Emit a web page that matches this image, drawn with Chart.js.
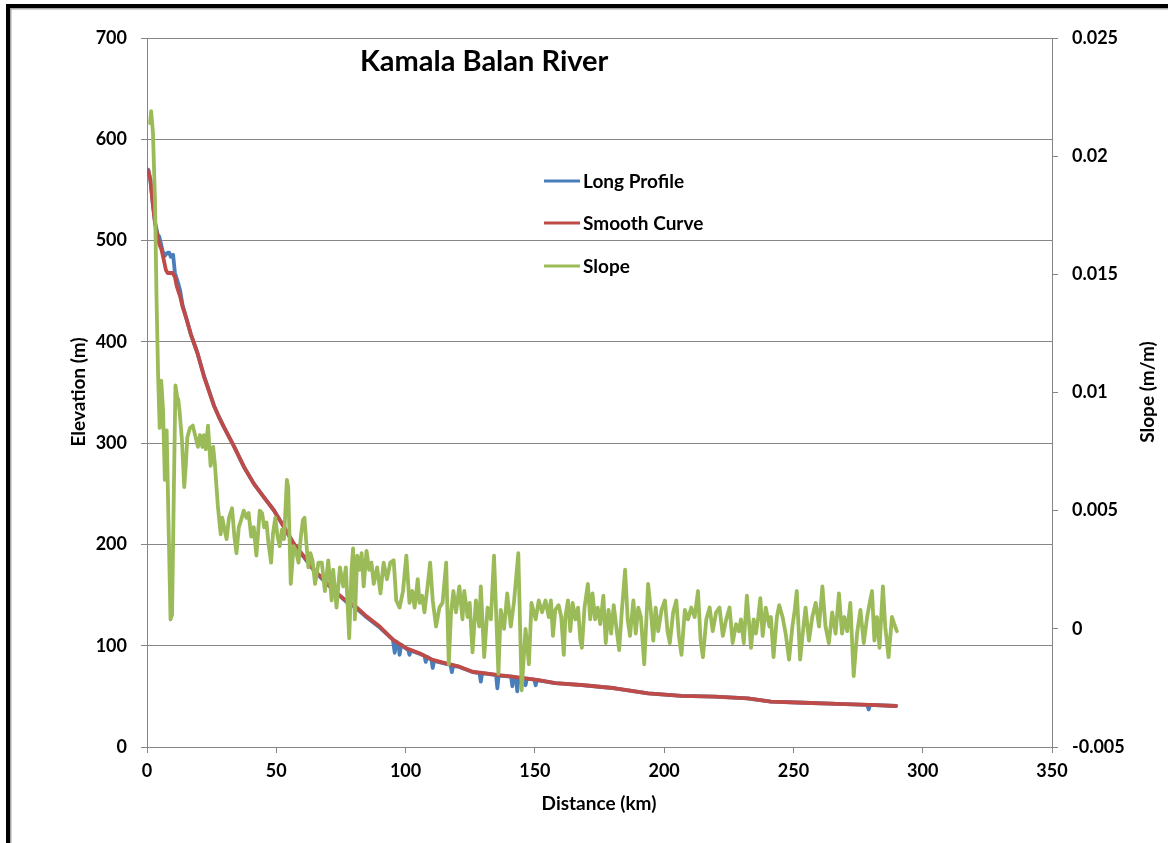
<!DOCTYPE html>
<html>
<head>
<meta charset="utf-8">
<title>Kamala Balan River</title>
<script src="https://cdn.jsdelivr.net/npm/chart.js@4.4.0/dist/chart.umd.min.js"></script>
<style>
  html, body { margin: 0; padding: 0; background: #ffffff; }
  #wrap { position: absolute; left: 0; top: 0; width: 1168px; height: 843px; }
</style>
</head>
<body>
<div id="wrap"><canvas id="chart" width="1168" height="843"></canvas></div>
<script>
// Long profile of the channel bed (distance in km, elevation in m)
const profileKm = [0.5, 1.3, 2.2, 3.1, 4.1, 4.7, 5.4, 6.0, 6.9, 7.5, 8.0, 8.6, 9.2, 10.1, 10.8, 11.8, 12.8, 13.7,
  15.0, 16.9, 19.5, 22.0, 25.9, 27.8, 29.7, 33.6, 37.4, 41.3, 45.1, 49.0, 52.8, 56.7, 60.5, 64.4, 66.9, 72.0,
  77.2, 81.0, 84.9, 90.0, 95.1, 95.8, 96.4, 97.2, 97.7, 98.3, 100.3, 101.0, 101.5, 102.0, 105.4, 107.3, 107.8,
  108.3, 110.0, 110.5, 111.0, 115.7, 117.4, 117.9, 118.4, 120.8, 125.9, 128.6, 129.1, 129.6, 131.0, 135.0,
  135.5, 136.0, 140.8, 141.3, 141.8, 142.7, 143.2, 143.7, 145.9, 146.4, 146.9, 149.8, 150.3, 150.8, 157.9,
  168.2, 181.0, 193.8, 206.7, 219.5, 232.3, 241.3, 254.1, 266.9, 278.6, 279.1, 279.6, 289.7];
const profileElev = [570, 560, 538, 518, 506, 504, 497, 490, 485, 487, 488, 488, 484, 486, 468, 460, 451, 437,
  425, 408, 389, 367, 337, 326, 316, 297, 277, 260, 247, 234, 218, 201, 188, 175, 168, 155,
  143, 137, 128, 118, 106, 93, 104, 102, 91, 101, 97, 96, 91, 95, 92, 90, 84,
  89, 86, 78, 85, 82, 81, 74, 80, 79, 74, 73, 64.5, 72.5, 72.5, 71,
  58, 70.5, 69.5, 60, 69, 68.8, 55, 68.5, 68, 61, 67.5, 66.5, 61, 66, 63,
  61, 58, 53, 50.4, 49.7, 48, 44.7, 43.7, 42.5, 41.5, 37, 41.5, 40.5];

// Smoothed profile (distance in km, elevation in m)
const smoothKm = [0.5, 1.3, 2.2, 3.1, 4.1, 4.7, 5.6, 6.4, 7.3, 8.0, 9.9, 10.8, 11.5, 12.8, 13.7, 15.0, 16.9,
  19.5, 22.0, 25.9, 27.8, 29.7, 33.6, 37.4, 41.3, 45.1, 49.0, 52.8, 56.7, 60.5, 64.4, 66.9, 72.0, 77.2,
  81.0, 84.9, 90.0, 95.1, 100.3, 105.4, 110.5, 115.7, 120.8, 125.9, 131.0, 136.2, 141.3, 146.4, 151.5,
  157.9, 168.2, 181.0, 193.8, 206.7, 219.5, 232.3, 241.3, 254.1, 266.9, 279.7, 289.7];
const smoothElev = [569, 560, 537, 517, 504, 497, 491, 482, 471, 468, 468, 464, 455, 445, 435, 425, 408,
  389, 366, 337, 326, 316, 297, 277, 260, 247, 234, 218, 201, 189, 175, 169, 155, 144,
  138, 129, 119, 106, 97.5, 92.5, 86, 82.6, 79.3, 74.3, 72.7, 71, 69.4, 67.7, 66,
  63, 61.2, 58, 53, 50.4, 49.7, 48, 44.7, 43.7, 42.5, 41.5, 40.5];

// Channel slope (distance in km, slope in m/m)
const slopeKm = [1.2, 1.6, 2.3, 3.1, 3.7, 4.3, 4.9, 5.5, 6.2, 6.9, 7.6, 8.3, 9.1, 9.7, 10.4, 11.0, 11.7, 12.1,
  12.6, 13.5, 14.4, 15.0, 15.6, 16.6, 17.7, 18.8, 19.7, 20.5, 21.4, 22.0, 22.7, 23.6, 24.6, 25.6, 26.3, 27.4,
  28.5, 29.1, 30.0, 30.8, 31.7, 32.9, 33.8, 34.6, 35.5, 36.4, 37.4, 38.5, 39.3, 40.3, 41.3, 42.3, 43.6, 44.5,
  45.3, 46.2, 47.0, 48.0, 48.7, 49.6, 50.5, 51.3, 52.2, 53.0, 54.1, 54.6, 55.6, 56.7, 57.6, 58.6, 59.5, 60.3,
  60.9, 61.5, 62.4, 63.2, 64.0, 65.0, 66.3, 67.6, 68.8, 70.1, 71.4, 72.0, 73.3, 74.6, 75.9, 76.9, 78.2, 79.1,
  79.7, 80.4, 81.3, 82.3, 83.0, 83.8, 84.9, 85.9, 86.8, 87.7, 89.0, 90.3, 91.5, 92.8, 94.1, 95.4, 96.4, 97.7,
  99.0, 100.3, 101.5, 102.6, 103.5, 104.7, 105.4, 106.4, 107.3, 108.6, 109.5, 110.5, 111.8, 113.1, 114.3,
  115.7, 116.7, 117.6, 118.5, 119.5, 120.8, 122.0, 122.7, 124.0, 124.8, 125.9, 127.2, 128.5, 129.1, 130.4,
  131.7, 133.0, 134.2, 135.9, 136.8, 138.1, 139.3, 140.7, 141.9, 143.6, 144.9, 146.4, 147.7, 148.7, 150.3,
  151.5, 152.8, 154.1, 155.4, 156.2, 157.0, 157.9, 159.2, 160.2, 161.2, 161.8, 162.8, 163.7, 164.6, 165.7,
  166.7, 167.6, 168.2, 169.2, 170.5, 171.4, 172.3, 173.3, 174.3, 175.3, 176.5, 177.4, 178.5, 179.5, 180.5,
  181.7, 182.6, 183.6, 184.9, 185.9, 186.8, 188.1, 189.0, 190.0, 191.0, 192.3, 193.8, 194.9, 195.8, 196.7,
  197.7, 199.0, 200.3, 201.3, 202.2, 203.5, 204.7, 205.7, 206.7, 208.0, 209.2, 210.5, 211.8, 213.1, 214.1,
  215.0, 216.3, 217.6, 218.8, 220.1, 221.4, 222.7, 224.0, 225.3, 226.5, 227.8, 228.9, 229.7, 230.8, 232.0,
  233.6, 234.6, 235.5, 236.4, 237.2, 238.1, 239.3, 240.7, 241.3, 242.3, 243.6, 244.5, 245.8, 247.0, 248.3,
  249.6, 250.5, 251.3, 252.6, 253.5, 254.7, 256.0, 257.3, 258.6, 259.9, 261.2, 262.4, 263.7, 265.0, 266.3,
  267.6, 268.8, 269.7, 270.8, 272.0, 273.3, 274.6, 275.9, 277.2, 278.5, 279.5, 280.4, 281.3, 282.3, 283.3,
  284.6, 285.5, 286.8, 288.1, 289.0, 290.0];
const slopeVal = [0.0214, 0.0219, 0.0210, 0.0181, 0.0139, 0.0107, 0.0085, 0.0105, 0.0093, 0.0063, 0.0084, 0.0046, 0.0004, 0.0006, 0.0060, 0.0103, 0.0098, 0.0097,
  0.0092, 0.0080, 0.0060, 0.0069, 0.0081, 0.0085, 0.0086, 0.0081, 0.0077, 0.0082, 0.0077, 0.0082, 0.0076, 0.0086, 0.0069, 0.0077, 0.0069, 0.0052,
  0.0040, 0.0047, 0.0042, 0.0038, 0.0047, 0.0051, 0.0039, 0.0032, 0.0043, 0.0046, 0.0050, 0.0047, 0.0049, 0.0039, 0.0043, 0.0031, 0.0050, 0.0049,
  0.0043, 0.0045, 0.0036, 0.0028, 0.0040, 0.0047, 0.0039, 0.0035, 0.0042, 0.0038, 0.0063, 0.0060, 0.0019, 0.0035, 0.0033, 0.0028, 0.0039, 0.0046,
  0.0047, 0.0038, 0.0026, 0.0032, 0.0029, 0.0019, 0.0028, 0.0028, 0.0016, 0.0029, 0.0012, 0.0025, 0.0009, 0.0026, 0.0018, 0.0026, -0.0004, 0.0025,
  0.0034, 0.0004, 0.0031, 0.0025, 0.0032, 0.0018, 0.0033, 0.0025, 0.0028, 0.0019, 0.0026, 0.0015, 0.0028, 0.0021, 0.0028, 0.0029, 0.0012, 0.0009,
  0.0016, 0.0031, 0.0011, 0.0016, 0.0009, 0.0021, 0.0011, 0.0014, 0.0007, 0.0019, 0.0028, 0.0012, 0.0001, 0.0009, 0.0011,
  0.0028, -0.0015, 0.0007, 0.0016, 0.0007, 0.0018, 0.0004, 0.0016, 0.0005, 0.0011, -0.0010, 0.0012, 0.0001, 0.0018, -0.0012,
  0.0009, 0.0004, 0.0031, -0.0019, 0.0008, 0.0000, 0.0015, 0.0001, 0.0011, 0.0032, -0.0026, 0.0000, -0.0015, 0.0011, 0.0004,
  0.0012, 0.0007, 0.0012, 0.0005, 0.0012, -0.0003, 0.0008, 0.0010, 0.0005, -0.0011, 0.0005, 0.0012, -0.0001, 0.0011, 0.0004,
  0.0009, -0.0005, -0.0008, 0.0009, 0.0019, 0.0004, 0.0015, 0.0004, 0.0009, 0.0002, 0.0014, -0.0006, 0.0008, -0.0002, 0.0010,
  -0.0001, -0.0009, 0.0007, 0.0025, 0.0004, -0.0003, 0.0012, -0.0002, 0.0009, 0.0005, -0.0015, 0.0019, 0.0007, -0.0005, 0.0009,
  -0.0001, 0.0008, 0.0012, -0.0001, -0.0006, 0.0007, 0.0012, -0.0003, -0.0011, 0.0008, 0.0004, 0.0009, 0.0005, 0.0016, -0.0005,
  -0.0012, 0.0004, 0.0009, -0.0001, 0.0007, 0.0009, -0.0003, 0.0004, 0.0009, -0.0006, 0.0002, -0.0001, 0.0004, -0.0006, 0.0014,
  -0.0008, 0.0004, -0.0002, 0.0005, 0.0013, -0.0003, 0.0009, 0.0001, 0.0005, -0.0012, 0.0005, 0.0010, 0.0005, -0.0002, -0.0013,
  0.0001, 0.0008, 0.0016, -0.0013, -0.0003, 0.0009, -0.0005, 0.0005, 0.0011, 0.0001, 0.0018, 0.0001, -0.0006, 0.0007, -0.0002,
  0.0015, -0.0002, 0.0005, -0.0001, 0.0011, -0.0020, -0.0002, 0.0008, -0.0006, 0.0005, 0.0011, 0.0016, -0.0005, 0.0005, -0.0008,
  0.0018, 0.0001, -0.0012, 0.0005, 0.0002, -0.0001];

// Axis ranges and steps
const distanceRange = [0, 350, 50];
const elevationRange = [0, 700, 100];
const slopeRange = [-0.005, 0.025, 0.005];

const chartTitle = 'Kamala Balan River';
const seriesNames = ['Long Profile', 'Smooth Curve', 'Slope'];
const seriesColors = ['#4a7ebb', '#be4b48', '#9bbb59'];
const axisTitles = { x: 'Distance (km)', y: 'Elevation (m)', y2: 'Slope (m/m)' };

const pairs = (xs, ys) => xs.map((x, i) => ({ x: x, y: ys[i] }));

const FONT = 'Lato, "Open Sans", sans-serif';
const GRID = '#868686';

// Frame, title, axis titles and legend drawn on the canvas
const decor = {
  id: 'decor',
  beforeDraw(chart) {
    const c = chart.ctx;
    c.save();
    c.fillStyle = '#ffffff';
    c.fillRect(0, 0, chart.width, chart.height);
    c.fillStyle = '#000000';
    c.fillRect(6, 4, chart.width, 4);
    c.fillRect(6, 4, 4, chart.height);
    c.fillStyle = '#a6a6a6';
    c.fillRect(10, 8, chart.width, 1.5);
    c.fillRect(10, 8, 1.5, chart.height);
    c.restore();
  },
  afterDraw(chart) {
    const c = chart.ctx;
    c.save();
    c.fillStyle = '#000000';
    c.textBaseline = 'middle';
    c.textAlign = 'left';
    c.font = 'bold 29px ' + FONT;
    c.fillText(chartTitle, 360, 62);

    c.font = 'bold 19px ' + FONT;
    c.textAlign = 'center';
    c.fillText(axisTitles.x, 599, 804);
    c.save();
    c.translate(79, 392);
    c.rotate(-Math.PI / 2);
    c.fillText(axisTitles.y, 0, 0);
    c.restore();
    c.save();
    c.translate(1148, 392);
    c.rotate(-Math.PI / 2);
    c.fillText(axisTitles.y2, 0, 0);
    c.restore();

    // legend
    const rows = [181, 223, 266];
    c.textAlign = 'left';
    c.lineWidth = 3;
    c.font = 'bold 19px ' + FONT;
    chart.data.datasets.forEach((ds, i) => {
      const y = rows[i];
      c.strokeStyle = ds.borderColor;
      c.beginPath();
      c.moveTo(544, y);
      c.lineTo(580, y);
      c.stroke();
      c.fillText(ds.label, 583, y + 1);
    });
    c.restore();
  }
};

const fitWidth = w => scale => { scale.width = w; };

new Chart(document.getElementById('chart'), {
  type: 'line',
  data: {
    datasets: [
      { label: seriesNames[0], data: pairs(profileKm, profileElev), yAxisID: 'y',
        borderColor: seriesColors[0], order: 2 },
      { label: seriesNames[1], data: pairs(smoothKm, smoothElev), yAxisID: 'y',
        borderColor: seriesColors[1], order: 1 },
      { label: seriesNames[2], data: pairs(slopeKm, slopeVal), yAxisID: 'y2',
        borderColor: seriesColors[2], order: 0 }
    ]
  },
  options: {
    responsive: false,
    animation: false,
    events: [],
    layout: { padding: { top: 38, left: 0, right: 0, bottom: 0 } },
    elements: {
      line: { borderWidth: 3.8, tension: 0, fill: false, borderJoinStyle: 'round', borderCapStyle: 'round' },
      point: { radius: 0 }
    },
    plugins: { legend: { display: false }, tooltip: { enabled: false }, title: { display: false } },
    scales: {
      x: {
        type: 'linear', position: 'bottom',
        min: distanceRange[0], max: distanceRange[1],
        afterFit: scale => { scale.height = 96; },
        grid: { drawOnChartArea: false, drawTicks: true, tickLength: 6, color: GRID },
        border: { color: GRID, width: 1 },
        ticks: { stepSize: distanceRange[2], padding: 7, color: '#000', maxRotation: 0,
                 font: { family: FONT, size: 18, weight: 'bold' } }
      },
      y: {
        type: 'linear', position: 'left',
        min: elevationRange[0], max: elevationRange[1],
        afterFit: fitWidth(147),
        grid: { color: GRID, tickLength: 6 },
        border: { color: GRID, width: 1 },
        ticks: { stepSize: elevationRange[2], padding: 14, color: '#000',
                 font: { family: FONT, size: 18, weight: 'bold' } }
      },
      y2: {
        type: 'linear', position: 'right',
        min: slopeRange[0], max: slopeRange[1],
        afterFit: fitWidth(116),
        grid: { drawOnChartArea: false, tickLength: 6, color: GRID },
        border: { color: GRID, width: 1 },
        ticks: { stepSize: slopeRange[2], padding: 14, color: '#000',
                 callback: v => String(+v.toFixed(3)),
                 font: { family: FONT, size: 18, weight: 'bold' } }
      }
    }
  },
  plugins: [decor]
});
</script>
</body>
</html>
